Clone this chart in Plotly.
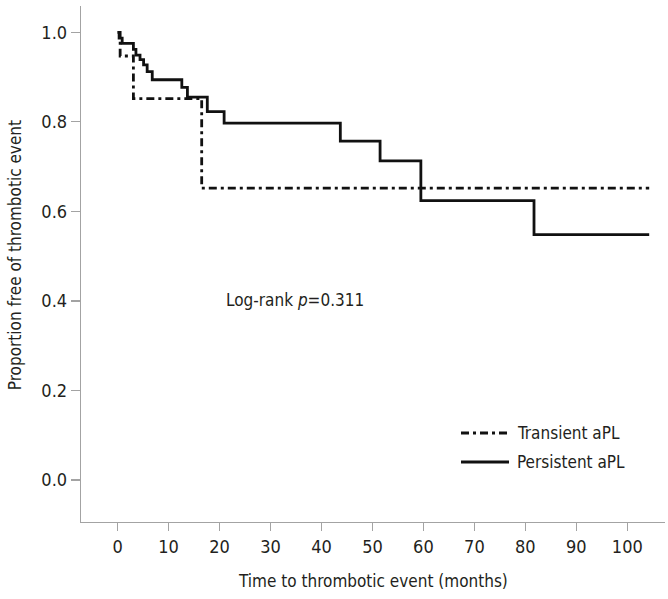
import plotly.graph_objects as go

# Kaplan-Meier step data (months, proportion free of event)
transient_time = [0, 0.5, 3.1, 16.5, 104.3]
transient_surv = [1.0, 0.947, 0.852, 0.652, 0.652]

persistent_time = [0, 0.3, 0.9, 3.1, 3.6, 4.4, 5.1, 5.8, 6.8, 12.6, 13.7, 17.6,
                   20.9, 43.7, 51.5, 59.5, 81.7, 104.3]
persistent_surv = [1.0, 0.987, 0.975, 0.962, 0.949, 0.939, 0.927, 0.912, 0.894,
                   0.877, 0.855, 0.823, 0.797, 0.757, 0.713, 0.624, 0.548, 0.548]

series_names = ["Transient aPL", "Persistent aPL"]
x_ticks = [0, 10, 20, 30, 40, 50, 60, 70, 80, 90, 100]
y_ticks = [0.0, 0.2, 0.4, 0.6, 0.8, 1.0]

FONT = "Liberation Sans Narrow, Arial Narrow, DejaVu Sans Condensed, sans-serif"
TXT = "#231f20"
AX = "#a3a3a3"
DASHDOT = "8px,4px,3px,4px"

fig = go.Figure()
fig.add_trace(go.Scatter(
    x=transient_time, y=transient_surv, mode="lines", line_shape="hv",
    name=series_names[0], showlegend=False, hoverinfo="skip",
    line=dict(color="#111111", width=2.8, dash=DASHDOT),
))
fig.add_trace(go.Scatter(
    x=persistent_time, y=persistent_surv, mode="lines", line_shape="hv",
    name=series_names[1], showlegend=False, hoverinfo="skip",
    line=dict(color="#111111", width=2.8),
))

fig.add_annotation(
    x=34.8, y=0.402, xref="x", yref="y",
    text="Log-rank <i>p</i>=0.311", showarrow=False,
    font=dict(family=FONT, size=17, color=TXT),
)

# legend drawn by hand (paper coordinates)
leg_rows = [0.1725, 0.1163]
leg_dash = [DASHDOT, "solid"]
for name, yy, dsh in zip(series_names, leg_rows, leg_dash):
    fig.add_shape(type="line", xref="paper", yref="paper",
                  x0=0.6507, x1=0.7329, y0=yy, y1=yy,
                  line=dict(color="#111111", width=2.8, dash=dsh))
    fig.add_annotation(x=0.7432, y=yy, xref="paper", yref="paper",
                       xanchor="left", yanchor="middle", showarrow=False,
                       text=name, font=dict(family=FONT, size=17, color=TXT))

# axis titles
fig.add_annotation(x=0.5, y=-0.1143, xref="paper", yref="paper",
                   xanchor="center", yanchor="middle", showarrow=False,
                   text="Time to thrombotic event (months)",
                   font=dict(family=FONT, size=17, color=TXT))
fig.add_annotation(x=-0.113, y=0.517, xref="paper", yref="paper",
                   xanchor="center", yanchor="middle", showarrow=False,
                   textangle=-90,
                   text="Proportion free of thrombotic event",
                   font=dict(family=FONT, size=17, color=TXT))

fig.update_layout(
    width=668, height=599,
    margin=dict(l=81, r=3, t=6, b=77),
    paper_bgcolor="white", plot_bgcolor="white",
    font=dict(family=FONT, size=18, color=TXT),
    showlegend=False,
    xaxis=dict(
        range=[-7.18, 107.4], tickvals=x_ticks, automargin=False,
        showline=True, linecolor=AX, linewidth=1.3,
        ticks="outside", ticklen=8, tickcolor=AX, tickwidth=1.3,
        showgrid=False, zeroline=False,
        tickfont=dict(family=FONT, size=18, color=TXT),
    ),
    yaxis=dict(
        range=[-0.0938, 1.0587], tickvals=y_ticks, tickformat=".1f",
        automargin=False,
        showline=True, linecolor=AX, linewidth=1.3,
        ticks="outside", ticklen=9, tickcolor=AX, tickwidth=1.3,
        showgrid=False, zeroline=False,
        tickfont=dict(family=FONT, size=18, color=TXT),
    ),
)

fig.write_html("out.html",
               config={"displayModeBar": False, "staticPlot": True},
               post_script="document.body.style.margin='0';document.body.style.overflow='hidden';")
